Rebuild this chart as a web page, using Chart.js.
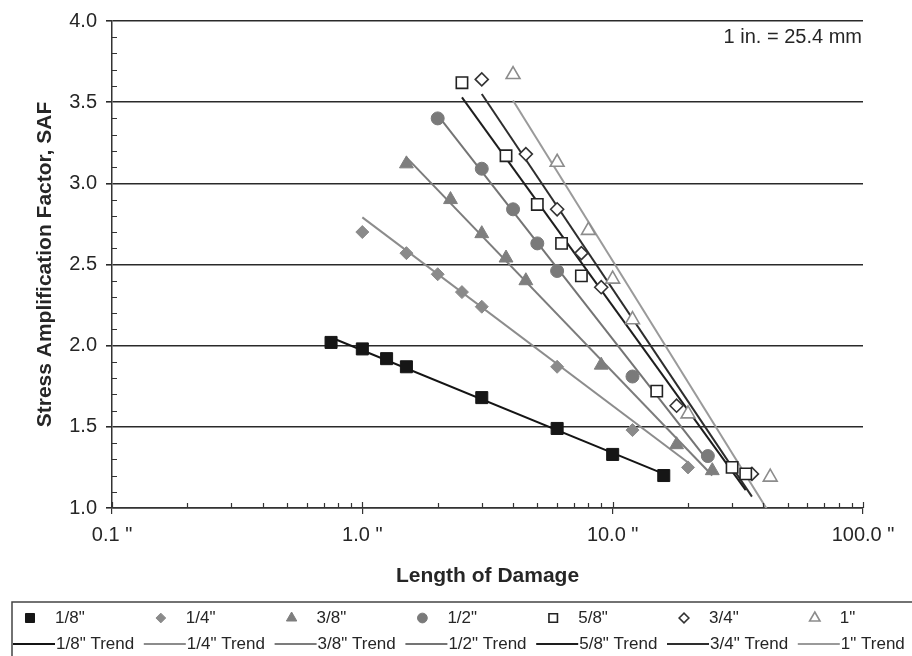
<!DOCTYPE html>
<html>
<head>
<meta charset="utf-8">
<title>SAF vs length of damage</title>
<script src="https://cdn.jsdelivr.net/npm/chart.js@4.4.1/dist/chart.umd.min.js"></script>
<style>
  html, body { margin: 0; padding: 0; background: #fff; }
  #wrap { width: 912px; height: 656px; }
</style>
</head>
<body>
<div id="wrap"><canvas id="saf-chart" width="912" height="656"></canvas></div>
<script>
// Measured points: length of damage (in.) and stress amplification factor
var len18 = [0.75, 1, 1.25, 1.5, 3, 6, 10, 16];
var saf18 = [2.02, 1.98, 1.92, 1.87, 1.68, 1.49, 1.33, 1.20];
var len14 = [1, 1.5, 2, 2.5, 3, 6, 12, 20];
var saf14 = [2.70, 2.57, 2.44, 2.33, 2.24, 1.87, 1.48, 1.25];
var len38 = [1.5, 2.25, 3, 3.75, 4.5, 9, 18, 25];
var saf38 = [3.12, 2.90, 2.69, 2.54, 2.40, 1.88, 1.39, 1.23];
var len12 = [2, 3, 4, 5, 6, 12, 24];
var saf12 = [3.40, 3.09, 2.84, 2.63, 2.46, 1.81, 1.32];
var len58 = [2.5, 3.75, 5, 6.25, 7.5, 15, 30, 34];
var saf58 = [3.62, 3.17, 2.87, 2.63, 2.43, 1.72, 1.25, 1.21];
var len34 = [3, 4.5, 6, 7.5, 9, 18, 36];
var saf34 = [3.64, 3.18, 2.84, 2.57, 2.36, 1.63, 1.21];
var len1 = [4, 6, 8, 10, 12, 20, 42.6];
var saf1 = [3.67, 3.13, 2.71, 2.41, 2.16, 1.58, 1.19];

// Trend line end points (length, SAF)
var trendLen18 = [0.75, 16], trendSaf18 = [2.05, 1.21];
var trendLen14 = [1, 20], trendSaf14 = [2.79, 1.28];
var trendLen38 = [1.5, 25], trendSaf38 = [3.16, 1.20];
var trendLen12 = [2, 24], trendSaf12 = [3.42, 1.29];
var trendLen58 = [2.5, 34], trendSaf58 = [3.53, 1.11];
var trendLen34 = [3, 36], trendSaf34 = [3.55, 1.07];
var trendLen1 = [4, 42.6], trendSaf1 = [3.51, 0.96];

var seriesNames = ['1/8"', '1/4"', '3/8"', '1/2"', '5/8"', '3/4"', '1"'];
var xTickVals = [0.1, 1, 10, 100];
var yTickVals = [1.0, 1.5, 2.0, 2.5, 3.0, 3.5, 4.0];

var FONT = "'Liberation Sans', Arial, Helvetica, sans-serif";
var TEXT = '#262626';

function pts(xs, ys) {
  return xs.map(function (x, i) { return { x: x, y: ys[i] }; });
}

// marker look per size
var markers = [
  { style: 'rect',     r: 8.5, fill: '#161616', line: '#161616', w: 1 },
  { style: 'rectRot',  r: 6.5, fill: '#8a8a8a', line: '#8a8a8a', w: 1 },
  { style: 'triangle', r: 8,   fill: '#7e7e7e', line: '#7e7e7e', w: 1 },
  { style: 'circle',   r: 6.5, fill: '#7a7a7a', line: '#7a7a7a', w: 1 },
  { style: 'rect',     r: 8,   fill: '#ffffff', line: '#222222', w: 1.6 },
  { style: 'rectRot',  r: 6.5, fill: '#ffffff', line: '#333333', w: 1.6 },
  { style: 'triangle', r: 8,   fill: '#ffffff', line: '#8c8c8c', w: 1.6 }
];
var trendColors = ['#141414', '#8c8c8c', '#7c7c7c', '#747474', '#1e1e1e', '#2e2e2e', '#9a9a9a'];

var pointSets = [
  pts(len18, saf18), pts(len14, saf14), pts(len38, saf38), pts(len12, saf12),
  pts(len58, saf58), pts(len34, saf34), pts(len1, saf1)
];
var trendSets = [
  pts(trendLen18, trendSaf18), pts(trendLen14, trendSaf14), pts(trendLen38, trendSaf38),
  pts(trendLen12, trendSaf12), pts(trendLen58, trendSaf58), pts(trendLen34, trendSaf34),
  pts(trendLen1, trendSaf1)
];

var datasets = [];
pointSets.forEach(function (data, i) {
  var m = markers[i];
  datasets.push({
    label: seriesNames[i],
    data: data,
    showLine: false,
    pointStyle: m.style,
    pointRadius: m.r,
    pointHoverRadius: m.r,
    pointBackgroundColor: m.fill,
    pointBorderColor: m.line,
    pointBorderWidth: m.w,
    order: 1
  });
});
trendSets.forEach(function (data, i) {
  datasets.push({
    label: seriesNames[i] + ' Trend',
    data: data,
    showLine: true,
    pointRadius: 0,
    borderColor: trendColors[i],
    borderWidth: 2,
    fill: false,
    order: 2
  });
});

// minor tick values
var yMinor = [];
for (var k = 11; k < 40; k++) { if (k % 5 !== 0) yMinor.push(k / 10); }
var xMinor = [];
[0.1, 1, 10].forEach(function (d) {
  for (var m = 2; m <= 9; m++) xMinor.push(d * m);
});

// Tick marks the axes do not draw by themselves, plus the unit note
var axisExtras = {
  id: 'axisExtras',
  afterDraw: function (chart) {
    var ctx = chart.ctx, xs = chart.scales.x, ys = chart.scales.y, a = chart.chartArea;
    ctx.save();
    ctx.strokeStyle = '#333';
    ctx.lineWidth = 1.2;
    ctx.beginPath();
    yMinor.forEach(function (v) {
      var py = Math.round(ys.getPixelForValue(v)) + 0.5;
      ctx.moveTo(a.left, py); ctx.lineTo(a.left + 5, py);
    });
    xMinor.forEach(function (v) {
      var px = Math.round(xs.getPixelForValue(v)) + 0.5;
      ctx.moveTo(px, a.bottom); ctx.lineTo(px, a.bottom - 5);
    });
    xTickVals.forEach(function (v) {
      var px = Math.round(xs.getPixelForValue(v)) + 0.5;
      ctx.moveTo(px, a.bottom); ctx.lineTo(px, a.bottom - 6);
    });
    ctx.stroke();

    ctx.fillStyle = TEXT;
    ctx.font = '20px ' + FONT;
    ctx.textAlign = 'right';
    ctx.textBaseline = 'middle';
    ctx.fillText('1 in. = 25.4 mm', a.right - 1, 37);
    ctx.restore();
  }
};

// Two-row legend: markers on the first row, trend lines on the second
var boxLegend = {
  id: 'boxLegend',
  afterDraw: function (chart) {
    var ctx = chart.ctx;
    var top = 602, row1 = 618, row2 = 644, left = 12, step = 130.8;
    ctx.save();
    ctx.strokeStyle = '#444';
    ctx.lineWidth = 1.5;
    ctx.beginPath();
    ctx.moveTo(left, 660); ctx.lineTo(left, top); ctx.lineTo(912, top);
    ctx.stroke();

    ctx.font = '17px ' + FONT;
    ctx.fillStyle = TEXT;
    ctx.textAlign = 'left';
    ctx.textBaseline = 'middle';
    seriesNames.forEach(function (name, i) {
      var m = markers[i];
      var cx = left + 18 + step * i;
      ctx.fillStyle = m.fill;
      ctx.strokeStyle = m.line;
      ctx.lineWidth = m.w;
      Chart.helpers.drawPoint(ctx, { pointStyle: m.style, radius: m.r * 0.75, borderWidth: m.w }, cx, row1);
      ctx.fillStyle = TEXT;
      ctx.fillText(name, cx + 25, row1);

      var lx = left + step * i;
      ctx.strokeStyle = trendColors[i];
      ctx.lineWidth = 2;
      ctx.beginPath();
      ctx.moveTo(lx + 1, row2); ctx.lineTo(lx + 43, row2);
      ctx.stroke();
      ctx.fillText(name + ' Trend', lx + 44, row2);
    });
    ctx.restore();
  }
};

var ctx = document.getElementById('saf-chart');
var safChart = new Chart(ctx, {
  type: 'scatter',
  data: { datasets: datasets },
  options: {
    responsive: false,
    animation: false,
    devicePixelRatio: 1,
    layout: { padding: { left: 0, right: 49, top: 18, bottom: 0 } },
    plugins: {
      legend: { display: false },
      tooltip: { enabled: false }
    },
    scales: {
      x: {
        type: 'logarithmic',
        min: 0.1,
        max: 100,
        afterBuildTicks: function (scale) {
          scale.ticks = xTickVals.map(function (v) { return { value: v }; });
        },
        afterFit: function (scale) { scale.height = 148; },
        ticks: {
          autoSkip: false,
          maxRotation: 0,
          padding: 9,
          color: TEXT,
          font: { family: FONT, size: 20 },
          callback: function (v) { return Number(v).toFixed(1) + ' "'; }
        },
        grid: { display: true, drawOnChartArea: false, drawTicks: true, tickLength: 6, color: '#333', lineWidth: 1.2 },
        border: { display: true, color: '#333', width: 1.5 },
        title: {
          display: true,
          text: 'Length of Damage',
          color: TEXT,
          font: { family: FONT, size: 21, weight: 'bold' },
          padding: { top: 0, bottom: 67 }
        }
      },
      y: {
        type: 'linear',
        min: 1,
        max: 4,
        afterBuildTicks: function (scale) {
          scale.ticks = yTickVals.map(function (v) { return { value: v }; });
        },
        afterFit: function (scale) { scale.width = 112; },
        ticks: {
          padding: 9,
          color: TEXT,
          font: { family: FONT, size: 20 },
          callback: function (v) { return Number(v).toFixed(1); }
        },
        grid: { color: '#2a2a2a', lineWidth: 1.6, drawTicks: true, tickLength: 6 },
        border: { display: true, color: '#333', width: 1.5 },
        title: {
          display: true,
          text: 'Stress Amplification Factor, SAF',
          color: TEXT,
          font: { family: FONT, size: 21, weight: 'bold' },
          padding: { top: 33, bottom: 0 }
        }
      }
    }
  },
  plugins: [axisExtras, boxLegend]
});
</script>
</body>
</html>
